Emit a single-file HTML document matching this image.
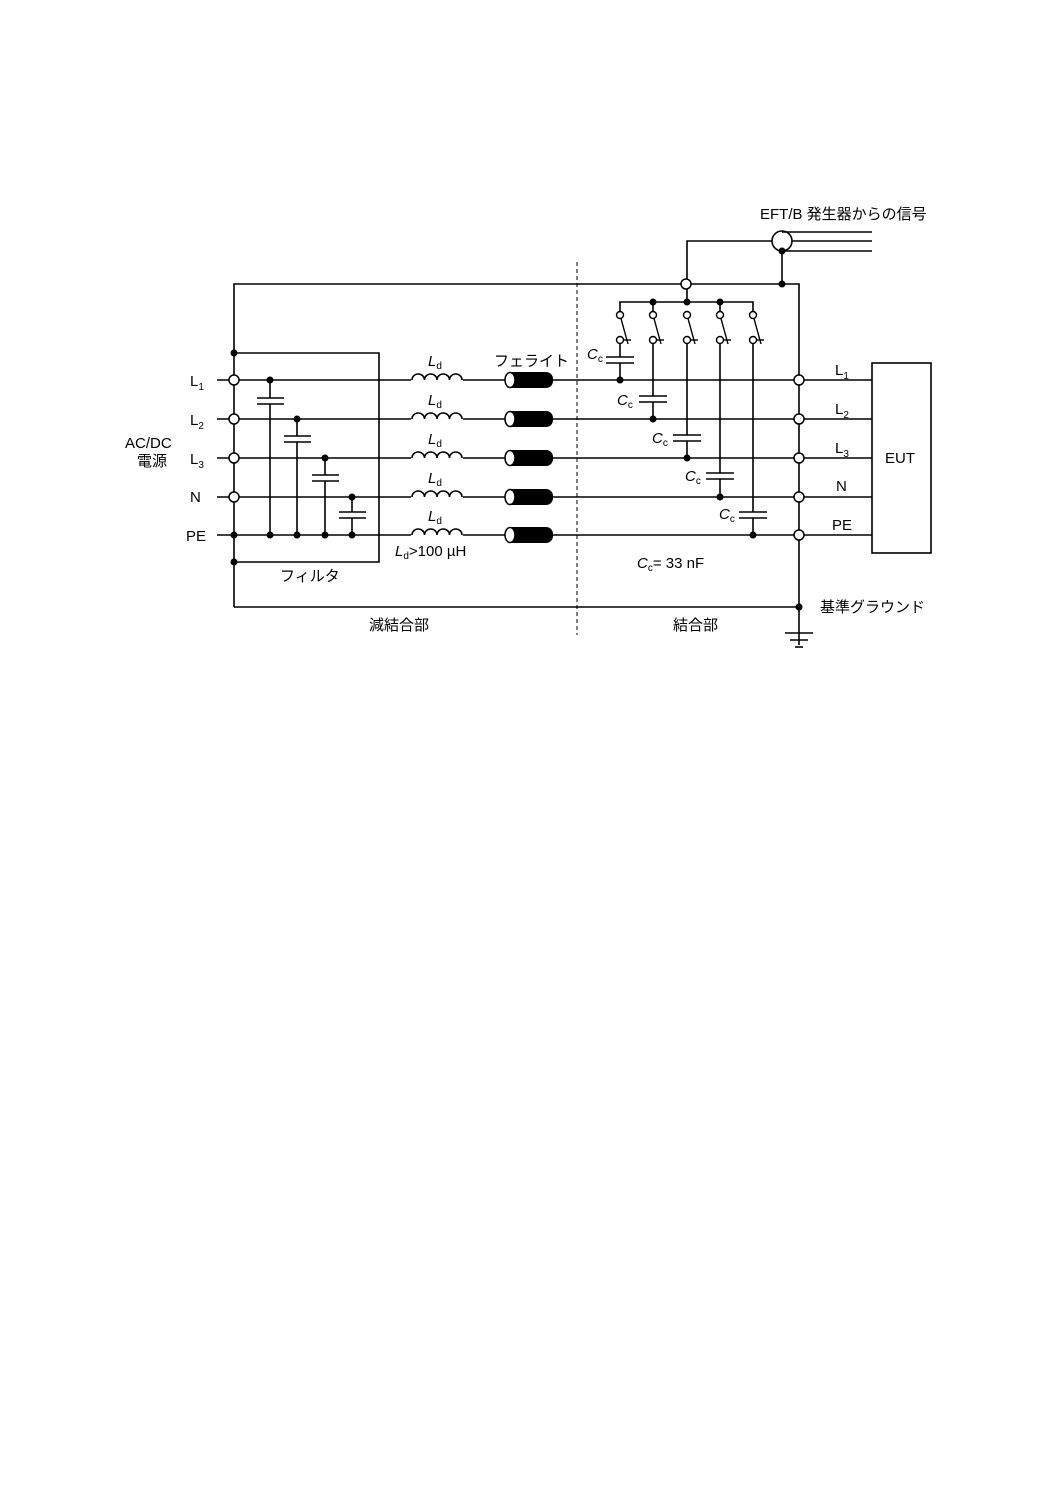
<!DOCTYPE html>
<html><head><meta charset="utf-8"><style>
html,body{margin:0;padding:0;background:#fff}
svg{display:block}
text{font-family:"Liberation Sans","Noto Sans CJK JP",sans-serif;font-size:15px;fill:#000}
</style></head><body>
<svg width="1058" height="1497" viewBox="0 0 1058 1497" xmlns="http://www.w3.org/2000/svg">
<defs>
<g id="ind"><path d="M412,0 a6.25,6 0 0 1 12.5,0 a6.25,6 0 0 1 12.5,0 a6.25,6 0 0 1 12.5,0 a6.25,6 0 0 1 12.5,0" fill="none" stroke="#000" stroke-width="1.6"/></g>
<g id="fer"><rect x="505" y="-8" width="48" height="16" rx="7" fill="#000"/><ellipse cx="510" cy="0" rx="5" ry="7.5" fill="#fff" stroke="#000" stroke-width="1.5"/></g>
<g id="sw"><circle cx="0" cy="315" r="3.5" fill="#fff" stroke="#000" stroke-width="1.4"/><line x1="1" y1="318.5" x2="8" y2="344" stroke="#000" stroke-width="1.4"/><circle cx="0" cy="340" r="3.5" fill="#fff" stroke="#000" stroke-width="1.4"/><line x1="3.5" y1="340" x2="11" y2="340" stroke="#000" stroke-width="1.4"/></g>
</defs>
<g stroke="#000" stroke-width="1.6" fill="none">
<polyline points="234,607 234,284 799,284 799,645"/>
<line x1="234" y1="607" x2="799" y2="607"/>
<polyline points="234,353 379,353 379,562 234,562"/>
<line x1="217" y1="380" x2="872" y2="380"/>
<line x1="217" y1="419" x2="872" y2="419"/>
<line x1="217" y1="458" x2="872" y2="458"/>
<line x1="217" y1="497" x2="872" y2="497"/>
<line x1="217" y1="535" x2="872" y2="535"/>
<line x1="270" y1="380" x2="270" y2="398"/><line x1="270" y1="404" x2="270" y2="535"/>
<line x1="257" y1="398" x2="284" y2="398"/><line x1="257" y1="404" x2="284" y2="404"/>
<line x1="297" y1="419" x2="297" y2="436"/><line x1="297" y1="442" x2="297" y2="535"/>
<line x1="284" y1="436" x2="311" y2="436"/><line x1="284" y1="442" x2="311" y2="442"/>
<line x1="325" y1="458" x2="325" y2="475"/><line x1="325" y1="481" x2="325" y2="535"/>
<line x1="312" y1="475" x2="339" y2="475"/><line x1="312" y1="481" x2="339" y2="481"/>
<line x1="352" y1="497" x2="352" y2="512"/><line x1="352" y1="518" x2="352" y2="535"/>
<line x1="339" y1="512" x2="366" y2="512"/><line x1="339" y1="518" x2="366" y2="518"/>
<line x1="577" y1="262" x2="577" y2="635" stroke-width="1" stroke-dasharray="4,3"/>
<circle cx="782" cy="241" r="10"/>
<line x1="782" y1="232" x2="872" y2="232"/>
<line x1="792" y1="241" x2="872" y2="241"/>
<line x1="782" y1="251" x2="872" y2="251"/>
<polyline points="772,241 687,241 687,302"/>
<line x1="782" y1="251" x2="782" y2="284"/>
<polyline points="620,311 620,302 753,302 753,311"/>
<line x1="653" y1="302" x2="653" y2="311"/><line x1="720" y1="302" x2="720" y2="311"/>
<line x1="620" y1="344" x2="620" y2="357"/><line x1="620" y1="363" x2="620" y2="380"/>
<line x1="606" y1="357" x2="634" y2="357"/><line x1="606" y1="363" x2="634" y2="363"/>
<line x1="653" y1="344" x2="653" y2="396"/><line x1="653" y1="402" x2="653" y2="419"/>
<line x1="639" y1="396" x2="667" y2="396"/><line x1="639" y1="402" x2="667" y2="402"/>
<line x1="687" y1="344" x2="687" y2="435"/><line x1="687" y1="441" x2="687" y2="458"/>
<line x1="673" y1="435" x2="701" y2="435"/><line x1="673" y1="441" x2="701" y2="441"/>
<line x1="720" y1="344" x2="720" y2="473"/><line x1="720" y1="479" x2="720" y2="497"/>
<line x1="706" y1="473" x2="734" y2="473"/><line x1="706" y1="479" x2="734" y2="479"/>
<line x1="753" y1="344" x2="753" y2="512"/><line x1="753" y1="518" x2="753" y2="535"/>
<line x1="739" y1="512" x2="767" y2="512"/><line x1="739" y1="518" x2="767" y2="518"/>
<rect x="872" y="363" width="59" height="190" fill="#fff"/>
<line x1="785" y1="633" x2="813" y2="633"/>
<line x1="790" y1="640" x2="808" y2="640"/>
<line x1="795" y1="647" x2="803" y2="647"/>
</g>
<g fill="#fff"><rect x="411" y="370" width="52" height="11"/><rect x="411" y="409" width="52" height="11"/><rect x="411" y="448" width="52" height="11"/><rect x="411" y="487" width="52" height="11"/><rect x="411" y="525" width="52" height="11"/></g>
<use href="#ind" transform="translate(0,380)"/><use href="#ind" transform="translate(0,419)"/><use href="#ind" transform="translate(0,458)"/><use href="#ind" transform="translate(0,497)"/><use href="#ind" transform="translate(0,535)"/>
<use href="#fer" transform="translate(0,380)"/><use href="#fer" transform="translate(0,419)"/><use href="#fer" transform="translate(0,458)"/><use href="#fer" transform="translate(0,497)"/><use href="#fer" transform="translate(0,535)"/>
<use href="#sw" transform="translate(620,0)"/><use href="#sw" transform="translate(653,0)"/><use href="#sw" transform="translate(687,0)"/><use href="#sw" transform="translate(720,0)"/><use href="#sw" transform="translate(753,0)"/>
<g fill="#fff" stroke="#000" stroke-width="1.5">
<circle cx="234" cy="380" r="5"/><circle cx="234" cy="419" r="5"/><circle cx="234" cy="458" r="5"/><circle cx="234" cy="497" r="5"/>
<circle cx="799" cy="380" r="5"/><circle cx="799" cy="419" r="5"/><circle cx="799" cy="458" r="5"/><circle cx="799" cy="497" r="5"/><circle cx="799" cy="535" r="5"/>
<circle cx="686" cy="284" r="5"/>
</g>
<g fill="#000">
<circle cx="234" cy="353" r="3.5"/><circle cx="234" cy="535" r="3.5"/><circle cx="234" cy="562" r="3.5"/>
<circle cx="270" cy="380" r="3.5"/><circle cx="297" cy="419" r="3.5"/><circle cx="325" cy="458" r="3.5"/><circle cx="352" cy="497" r="3.5"/>
<circle cx="270" cy="535" r="3.5"/><circle cx="297" cy="535" r="3.5"/><circle cx="325" cy="535" r="3.5"/><circle cx="352" cy="535" r="3.5"/>
<circle cx="620" cy="380" r="3.5"/><circle cx="653" cy="419" r="3.5"/><circle cx="687" cy="458" r="3.5"/><circle cx="720" cy="497" r="3.5"/><circle cx="753" cy="535" r="3.5"/>
<circle cx="653" cy="302" r="3.5"/><circle cx="687" cy="302" r="3.5"/><circle cx="720" cy="302" r="3.5"/>
<circle cx="782" cy="251" r="3.5"/><circle cx="782" cy="284" r="3.5"/><circle cx="799" cy="607" r="3.5"/>
</g>
<text x="190" y="386">L<tspan font-size="10" dy="4">1</tspan></text>
<text x="190" y="425">L<tspan font-size="10" dy="4">2</tspan></text>
<text x="190" y="464">L<tspan font-size="10" dy="4">3</tspan></text>
<text x="190" y="502">N</text>
<text x="186" y="541">PE</text>
<text x="125" y="448">AC/DC</text>
<text x="137" y="466">電源</text>
<text x="428" y="366" font-style="italic">L<tspan font-size="10" font-style="normal" dy="3">d</tspan></text>
<text x="428" y="405" font-style="italic">L<tspan font-size="10" font-style="normal" dy="3">d</tspan></text>
<text x="428" y="444" font-style="italic">L<tspan font-size="10" font-style="normal" dy="3">d</tspan></text>
<text x="428" y="483" font-style="italic">L<tspan font-size="10" font-style="normal" dy="3">d</tspan></text>
<text x="428" y="521" font-style="italic">L<tspan font-size="10" font-style="normal" dy="3">d</tspan></text>
<text x="395" y="556"><tspan font-style="italic">L</tspan><tspan font-size="10" dy="3">d</tspan><tspan dy="-3">&gt;100 µH</tspan></text>
<text x="494" y="366">フェライト</text>
<text x="280" y="581">フィルタ</text>
<text x="369" y="630">減結合部</text>
<text x="673" y="630">結合部</text>
<text x="587" y="359"><tspan font-style="italic">C</tspan><tspan font-size="10" dy="3">c</tspan></text>
<text x="617" y="405"><tspan font-style="italic">C</tspan><tspan font-size="10" dy="3">c</tspan></text>
<text x="652" y="443"><tspan font-style="italic">C</tspan><tspan font-size="10" dy="3">c</tspan></text>
<text x="685" y="481"><tspan font-style="italic">C</tspan><tspan font-size="10" dy="3">c</tspan></text>
<text x="719" y="519"><tspan font-style="italic">C</tspan><tspan font-size="10" dy="3">c</tspan></text>
<text x="637" y="568"><tspan font-style="italic">C</tspan><tspan font-size="10" dy="3">c</tspan><tspan dy="-3">= 33 nF</tspan></text>
<text x="835" y="375">L<tspan font-size="10" dy="4">1</tspan></text>
<text x="835" y="414">L<tspan font-size="10" dy="4">2</tspan></text>
<text x="835" y="453">L<tspan font-size="10" dy="4">3</tspan></text>
<text x="836" y="491">N</text>
<text x="832" y="530">PE</text>
<text x="885" y="463">EUT</text>
<text x="760" y="219">EFT/B 発生器からの信号</text>
<text x="820" y="612">基準グラウンド</text>
</svg>
</body></html>
